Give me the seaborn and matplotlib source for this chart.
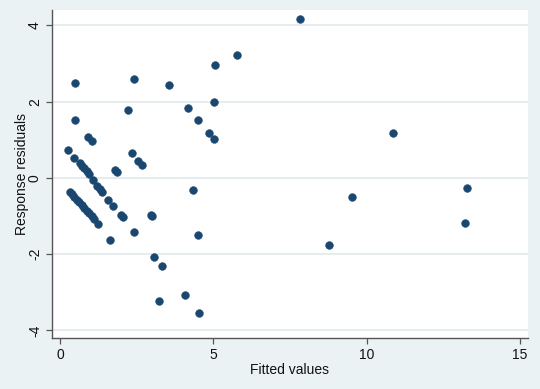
import matplotlib
matplotlib.use("Agg")
import matplotlib.pyplot as plt
import seaborn as sns
import pandas as pd

fitted = [0.25, 0.50, 0.50, 0.47, 0.92, 1.03,
          0.64, 0.73, 0.79, 0.87, 0.95, 1.09, 1.21, 1.29, 1.38, 1.57, 1.74, 1.98, 2.04,
          1.80, 1.87, 2.23, 2.41, 2.34, 2.55, 2.66, 3.56, 4.16, 4.49, 4.85, 5.01, 5.01,
          5.04, 5.77, 7.81, 10.85, 13.28, 9.53, 13.19, 8.76, 4.33, 4.49, 3.07, 3.33,
          3.24, 4.07, 4.54, 2.97, 3.00, 2.41, 1.62,
          0.33, 0.40, 0.47, 0.54, 0.62, 0.71, 0.79, 0.87, 0.95, 1.03, 1.11, 1.23]
residuals = [0.73, 2.49, 1.51, 0.52, 1.06, 0.96,
             0.38, 0.31, 0.25, 0.18, 0.10, -0.06, -0.20, -0.28, -0.37, -0.59, -0.75, -0.96, -1.02,
             0.22, 0.15, 1.77, 2.59, 0.66, 0.44, 0.35, 2.43, 1.84, 1.51, 1.17, 1.01, 1.99,
             2.95, 3.22, 4.18, 1.17, -0.26, -0.51, -1.17, -1.75, -0.33, -1.49, -2.07, -2.32,
             -3.23, -3.06, -3.54, -0.97, -0.99, -1.42, -1.62,
             -0.36, -0.43, -0.49, -0.57, -0.63, -0.72, -0.79, -0.86, -0.93, -1.01, -1.08, -1.22]

xticks = [0, 5, 10, 15]
yticks = [-4, -2, 0, 2, 4]

df = pd.DataFrame({"Fitted values": fitted, "Response residuals": residuals})

sns.set_style("white")
plt.rcParams["font.family"] = ["Liberation Sans", "DejaVu Sans"]

bg = "#eaf2f3"
navy = "#1a476f"

fig = plt.figure(figsize=(5.4, 3.89), dpi=100, facecolor=bg)
ax = fig.add_axes([0.0957, 0.130, 0.978 - 0.0957, 0.974 - 0.130])
ax.set_facecolor("white")

for yv in yticks:
    ax.axhline(yv, color="#e4ecee", lw=1.3, zorder=0)

sns.scatterplot(data=df, x="Fitted values", y="Response residuals", ax=ax,
                color=navy, s=32, edgecolor=navy, linewidth=0.3, zorder=3)

ax.set_xlim(-0.27, 15.26)
ax.set_ylim(-4.21, 4.40)
ax.set_xticks(xticks)
ax.set_yticks(yticks)
ax.set_yticklabels([str(v) for v in yticks], rotation=90, va="center")

for s in ["top", "right"]:
    ax.spines[s].set_visible(False)
for s in ["left", "bottom"]:
    ax.spines[s].set_color("#555555")
    ax.spines[s].set_linewidth(1.0)

ax.tick_params(axis="both", direction="out", length=4, width=0.9, color="#555555",
               labelsize=10, labelcolor="#111111", pad=3)
ax.tick_params(axis="both", bottom=True, left=True)
ax.set_xlabel("Fitted values", fontsize=10, color="#111111", labelpad=0.5)
ax.set_ylabel("Response residuals", fontsize=10, color="#111111", labelpad=-1)

fig.savefig("out.png", dpi=100, facecolor=bg)
